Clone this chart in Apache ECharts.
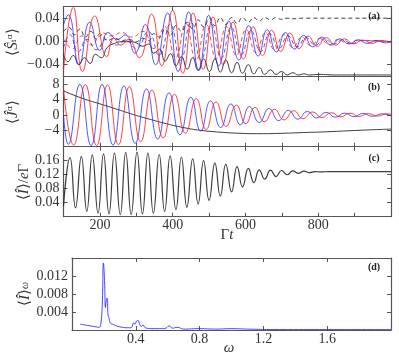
<!DOCTYPE html>
<html>
<head>
<meta charset="utf-8">
<script src="https://cdn.jsdelivr.net/npm/echarts@6/dist/echarts.min.js"></script>
<style>
  html, body { margin: 0; padding: 0; background: #fff; }
  #chart { width: 399px; height: 359px; }
</style>
</head>
<body>
<div id="chart"></div>
<script>
// ---- data: [Gamma t, value] extrema ----
var aRedSolid = [[100,-0.050],[127,0.060],[152,-0.052],[186,0.045],[219,-0.026],[238,0.006],[258,-0.006],[278,0.004],[308,-0.028],[342,0.048],[370,-0.042],[400,0.055],[428,-0.055],[456,0.050],[484,-0.048],[511,0.043],[539,-0.040],[566,0.034],[594,-0.030],[621,0.026],[647,-0.024],[672,0.020],[697,-0.017],[722,0.015],[747,-0.012],[772,0.010],[797,-0.008],[822,0.007],[847,-0.006],[872,0.005],[897,-0.004],[922,0.003],[947,-0.003],[972,0.002],[1000,-0.001]];
var aBlueSolid = [[100,0.030],[113,0.047],[143,-0.040],[172,0.034],[200,-0.015],[222,0.016],[248,0.004],[270,0.012],[296,-0.020],[325,0.030],[353,-0.040],[386,0.050],[415,-0.052],[444,0.052],[472,-0.050],[499,0.046],[527,-0.042],[554,0.036],[582,-0.032],[609,0.028],[635,-0.025],[660,0.021],[685,-0.018],[710,0.016],[735,-0.013],[760,0.011],[785,-0.009],[810,0.008],[835,-0.006],[860,0.005],[885,-0.004],[910,0.0035],[935,-0.003],[960,0.002],[985,-0.002],[1000,0]];
var aRedDashed = [[100,0.005],[125,-0.012],[150,0.010],[178,-0.006],[205,0.016],[232,0.010],[260,0.016],[288,0.008],[318,0.018],[348,-0.012],[378,0.026],[408,-0.028],[436,0.032],[464,-0.032],[492,0.030],[520,-0.030],[548,0.026],[575,-0.024],[602,0.021],[629,-0.019],[655,0.016],[680,-0.014],[705,0.012],[730,-0.010],[755,0.008],[780,-0.007],[805,0.006],[830,-0.005],[855,0.004],[880,-0.003],[910,0.002],[1000,0]];
var aBlueDashed = [[100,-0.010],[118,0.012],[140,-0.018],[165,0.004],[190,-0.014],[218,0.004],[245,-0.006],[272,0.002],[300,-0.012],[333,0.018],[363,-0.024],[393,0.030],[422,-0.032],[450,0.034],[478,-0.032],[506,0.030],[534,-0.028],[561,0.025],[589,-0.022],[615,0.019],[642,-0.017],[667,0.014],[692,-0.012],[717,0.010],[742,-0.009],[767,0.007],[792,-0.006],[817,0.005],[842,-0.004],[867,0.003],[892,-0.003],[920,0.002],[1000,0]];
var aBlackSolid = [[100,-0.022],[112,-0.035],[127,-0.024],[142,-0.040],[158,-0.028],[173,-0.038],[188,-0.022],[204,-0.028],[220,-0.010],[240,-0.003],[260,0.0],[280,0.0],[300,-0.002],[318,-0.008],[334,-0.004],[348,-0.020],[364,-0.013],[379,-0.034],[394,-0.021],[409,-0.042],[424,-0.026],[440,-0.048],[455,-0.028],[470,-0.050],[485,-0.030],[501,-0.052],[516,-0.030],[531,-0.053],[546,-0.032],[562,-0.054],[577,-0.036],[592,-0.055],[608,-0.040],[623,-0.056],[638,-0.045],[653,-0.057],[669,-0.049],[684,-0.057],[699,-0.052],[715,-0.058],[730,-0.054],[745,-0.058],[761,-0.056],[776,-0.058],[800,-0.057],[850,-0.058],[1000,-0.058]];
var aBlackDashed = [[100,0.018],[115,0.025],[130,0.012],[145,0.022],[160,0.008],[175,0.018],[190,0.005],[205,0.012],[220,0.002],[240,0.006],[260,0.002],[280,0.004],[300,0.0],[318,0.006],[334,0.002],[348,0.014],[364,0.008],[379,0.022],[394,0.012],[409,0.028],[424,0.018],[440,0.034],[455,0.022],[470,0.038],[485,0.026],[501,0.041],[516,0.028],[531,0.042],[546,0.030],[562,0.042],[577,0.032],[592,0.042],[608,0.034],[623,0.042],[638,0.036],[653,0.042],[669,0.038],[684,0.042],[699,0.039],[715,0.041],[730,0.040],[760,0.041],[1000,0.041]];

var bBlue = [[100,0.0],[113,-7.7],[145,8.0],[176,-8.0],[206,8.0],[236,-7.9],[266,7.6],[297,-7.4],[328,6.8],[359,-6.3],[390,5.8],[420,-5.2],[450,4.6],[477,-4.2],[504,3.7],[532,-3.3],[560,2.9],[586,-2.6],[611,2.2],[638,-2.0],[665,1.7],[691,-1.5],[718,1.2],[744,-1.1],[770,0.9],[796,-0.8],[821,0.7],[847,-0.6],[873,0.5],[898,-0.45],[923,0.4],[949,-0.35],[975,0.3],[1000,-0.2]];
var bRed = [[100,7.0],[128,-7.9],[160,8.0],[191,-8.0],[221,7.9],[251,-7.8],[281,7.4],[312,-7.0],[343,6.5],[374,-6.0],[405,5.4],[435,-4.8],[465,4.3],[492,-3.8],[519,3.4],[547,-3.0],[575,2.6],[601,-2.3],[626,2.0],[652,-1.8],[680,1.5],[706,-1.3],[733,1.1],[758,-1.0],[785,0.8],[810,-0.7],[836,0.6],[862,-0.5],[888,0.45],[912,-0.4],[938,0.35],[963,-0.3],[990,0.3],[1000,0.2]];
var bBlack = [[100,6.3],[150,4.4],[200,2.9],[250,1.4],[292,0.1],[340,-1.2],[383,-2.3],[430,-3.3],[475,-4.0],[530,-4.5],[585,-4.8],[640,-4.9],[700,-4.8],[760,-4.6],[823,-4.4],[915,-4.0],[1000,-3.7]];

var cCurrent = [[100,0.030],[118,0.166],[133,0.025],[149,0.170],[164,0.015],[179,0.174],[195,0.010],[210,0.177],[225,0.008],[240,0.179],[256,0.006],[271,0.181],[286,0.006],[302,0.182],[317,0.008],[332,0.179],[347,0.010],[363,0.175],[378,0.015],[393,0.171],[409,0.020],[424,0.168],[439,0.027],[455,0.163],[470,0.036],[485,0.158],[500,0.046],[516,0.151],[531,0.058],[546,0.147],[562,0.070],[577,0.141],[592,0.084],[608,0.136],[623,0.096],[638,0.132],[653,0.106],[669,0.131],[684,0.113],[699,0.130],[715,0.118],[730,0.129],[745,0.122],[761,0.128],[776,0.124],[791,0.127],[806,0.126],[830,0.127],[1000,0.127]];

var dSpectrum = [[0.05,0.0013],[0.10,0.0010],[0.15,0.0007],[0.17,0.0006],[0.18,0.0012],[0.19,0.0060],[0.197,0.0149],[0.204,0.0110],[0.210,0.0050],[0.216,0.0068],[0.221,0.0071],[0.226,0.0032],[0.232,0.0027],[0.24,0.0016],[0.26,0.0012],[0.30,0.0007],[0.36,0.0005],[0.375,0.0006],[0.385,0.0016],[0.395,0.0013],[0.405,0.0020],[0.415,0.0021],[0.425,0.0012],[0.435,0.0008],[0.445,0.0011],[0.46,0.0005],[0.50,0.0003],[0.58,0.0003],[0.61,0.0009],[0.63,0.0004],[0.66,0.0006],[0.70,0.0002],[0.80,0.0003],[0.90,0.0002],[1.00,0.0003],[1.10,0.0002],[1.30,0.0001],[1.60,0.0001],[2.00,0.0001]];

var tLabels = [200, 400, 600, 800];
var wLabels = [0.4, 0.8, 1.2, 1.6];
var aTicks = [-0.04, 0, 0.04];
var bTicks = [-4, 0, 4, 8];
var cTicks = [0.04, 0.08, 0.12, 0.16];
var dTicks = [0.004, 0.008, 0.012];

var FONT = 'Liberation Serif';
var FRAME = '#555';

function xAxes(grid, min, max, interval, labels, digits) {
  var base = {
    type: 'value', gridIndex: grid, min: min, max: max, interval: interval,
    axisLine: { show: true, onZero: false, lineStyle: { color: FRAME, width: 1.2 } },
    axisTick: { show: true, inside: true, length: 4, lineStyle: { color: FRAME } },
    splitLine: { show: false }
  };
  var bottom = Object.assign({}, base, {
    position: 'bottom',
    axisLabel: labels ? {
      show: true, margin: 2, fontFamily: FONT, fontSize: 14, color: '#333',
      formatter: function (v) {
        for (var i = 0; i < labels.length; i++) if (Math.abs(labels[i] - v) < 1e-9) return v.toFixed(digits);
        return '';
      }
    } : { show: false }
  });
  var top = Object.assign({}, base, { position: 'top', axisLabel: { show: false } });
  return [bottom, top];
}

function yAxes(grid, min, max, ticks, digits) {
  var base = {
    type: 'value', gridIndex: grid, min: min, max: max,
    axisLine: { show: true, onZero: false, lineStyle: { color: FRAME, width: 1.2 } },
    axisTick: { show: true, inside: true, length: 4, customValues: ticks, lineStyle: { color: FRAME } },
    splitLine: { show: false }
  };
  var left = Object.assign({}, base, {
    position: 'left',
    axisLabel: {
      show: true, margin: 4, fontFamily: FONT, fontSize: 14, color: '#333', customValues: ticks,
      formatter: function (v) {
        var s = Math.abs(v).toFixed(digits);
        return v < -1e-12 ? '\u2212' + s : s;
      }
    }
  });
  var right = Object.assign({}, base, { position: 'right', axisLabel: { show: false } });
  return [left, right];
}

var RED = 'rgba(255,20,20,0.8)';
var BLUE = 'rgba(30,30,255,0.75)';
var BLACK = 'rgba(40,40,40,0.9)';

function line(data, xi, yi, color, dashed, width) {
  return {
    type: 'line', data: data, xAxisIndex: xi, yAxisIndex: yi,
    showSymbol: false, smooth: 0.5, animation: false,
    lineStyle: { color: color, width: width || 1, type: dashed ? [4, 3] : 'solid' }
  };
}

var chart = echarts.init(document.getElementById('chart'), null, { renderer: 'canvas' });

var grids = [
  { left: 63.5, top: 6.7, width: 327.5, height: 70 },
  { left: 63.5, top: 76.7, width: 327.5, height: 70 },
  { left: 63.5, top: 146.7, width: 327.5, height: 70 },
  { left: 72, top: 258, width: 319, height: 72 }
];

var xs = [].concat(
  xAxes(0, 100, 1000, 100, null, 0),
  xAxes(1, 100, 1000, 100, null, 0),
  xAxes(2, 100, 1000, 100, tLabels, 0),
  xAxes(3, 0, 2, 0.4, wLabels, 1)
);
var ys = [].concat(
  yAxes(0, -0.061, 0.061, aTicks, 2),
  yAxes(1, -8.3, 10.0, bTicks, 0),
  yAxes(2, 0, 0.197, cTicks, 2),
  yAxes(3, 0, 0.016, dTicks, 3)
);

function label(text, x, y) {
  return { type: 'text', x: x, y: y, style: { text: text, font: 'bold 10px ' + FONT, fill: '#222', textAlign: 'center', textVerticalAlign: 'middle' } };
}
function vname(text, x, y, rich) {
  return {
    type: 'text', x: x, y: y, rotation: Math.PI / 2,
    style: { text: text, font: '15px ' + FONT, fill: '#333', textAlign: 'center', textVerticalAlign: 'middle', rich: rich || {} }
  };
}

chart.setOption({
  animation: false,
  grid: grids,
  xAxis: xs,
  yAxis: ys,
  series: [
    line(aBlackDashed, 0, 0, BLACK, true),
    line(aBlueDashed, 0, 0, BLUE, true),
    line(aRedDashed, 0, 0, RED, true),
    line(aBlackSolid, 0, 0, BLACK, false),
    line(aBlueSolid, 0, 0, BLUE, false),
    line(aRedSolid, 0, 0, RED, false),
    line(bBlack, 2, 2, BLACK, false),
    line(bBlue, 2, 2, BLUE, false),
    line(bRed, 2, 2, RED, false),
    line(cCurrent, 4, 4, BLACK, false, 1.2),
    line(dSpectrum, 6, 6, 'rgba(40,40,255,0.85)', false)
  ],
  graphic: [
    label('(a)', 374, 16),
    label('(b)', 374, 87),
    label('(c)', 374, 158),
    label('(d)', 374, 267),
    vname('\u27E8{i|S\u0302}{s|\u1D62\u1D45}\u27E9', 13, 42, { i: { fontStyle: 'italic', fontSize: 15, fontFamily: FONT }, s: { fontSize: 13, fontFamily: 'DejaVu Serif' } }),
    vname('\u27E8{i|\u0134}{s|\u1D45}\u27E9', 13, 112, { i: { fontStyle: 'italic', fontSize: 15, fontFamily: FONT }, s: { fontSize: 13, fontFamily: 'DejaVu Serif' } }),
    vname('\u27E8{i|\u00CE}\u27E9/{i|e}\u0393', 24, 182, { i: { fontStyle: 'italic', fontSize: 15, fontFamily: FONT } }),
    vname('\u27E8{i|\u00CE}\u27E9{s|\u03C9}', 25, 294, { i: { fontStyle: 'italic', fontSize: 15, fontFamily: FONT }, s: { fontStyle: 'italic', fontSize: 10, fontFamily: FONT } }),
    { type: 'text', x: 227, y: 235, style: { text: '\u0393{i|t}', font: '15px ' + FONT, fill: '#333', textAlign: 'center', textVerticalAlign: 'middle', rich: { i: { fontStyle: 'italic', fontSize: 15, fontFamily: FONT } } } },
    { type: 'text', x: 229, y: 348, style: { text: '\u03C9', font: 'italic 15px ' + FONT, fill: '#333', textAlign: 'center', textVerticalAlign: 'middle' } }
  ]
});
</script>
</body>
</html>
